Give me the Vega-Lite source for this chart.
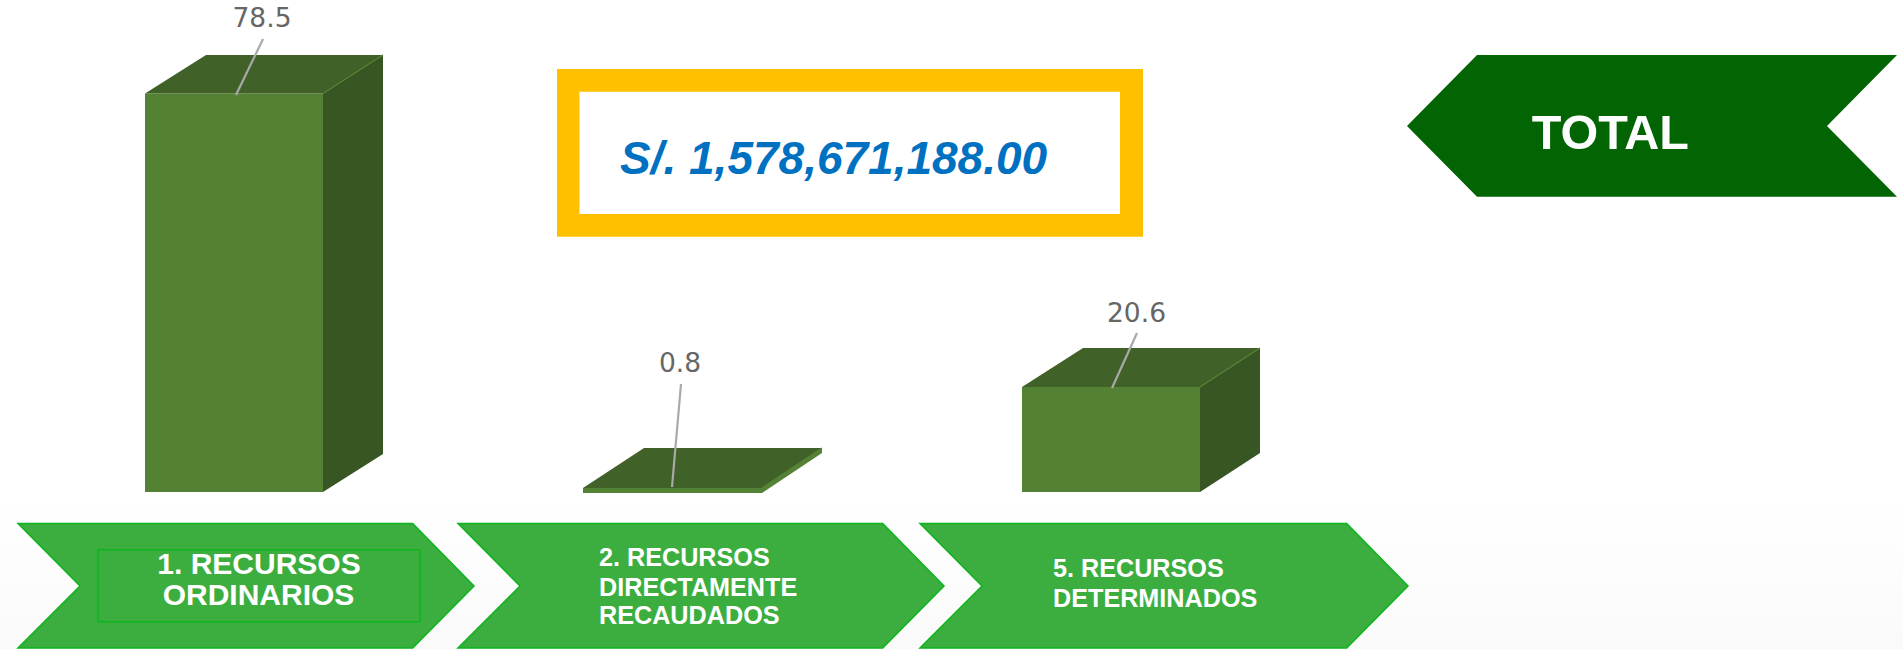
{
"$schema":"https://vega.github.io/schema/vega-lite/v6.json",
"width":1903,"height":649,"padding":0,"autosize":{"type":"none"},
"background":"white",
"view":{"stroke":null},
"config":{"axis":{"domain":false,"grid":false,"ticks":false,"labels":false,"title":null}},
"datasets":{
"faces":[
{"shape":"b1f","part":"front","y":93.5,"xl":145,"xr":323},
{"shape":"b1f","part":"front","y":492,"xl":145,"xr":323},
{"shape":"b1s","part":"side","y":55,"xl":383,"xr":383},
{"shape":"b1s","part":"side","y":93.5,"xl":323,"xr":383},
{"shape":"b1s","part":"side","y":454,"xl":323,"xr":383},
{"shape":"b1s","part":"side","y":492,"xl":323,"xr":323},
{"shape":"b1t","part":"top","y":55,"xl":206,"xr":383},
{"shape":"b1t","part":"top","y":93.5,"xl":145,"xr":323},
{"shape":"b2f","part":"front","y":488,"xl":583,"xr":762},
{"shape":"b2f","part":"front","y":493,"xl":583,"xr":762},
{"shape":"b2s","part":"front","y":448,"xl":822,"xr":822},
{"shape":"b2s","part":"front","y":453,"xl":814.5,"xr":822},
{"shape":"b2s","part":"front","y":488,"xl":762,"xr":769.5},
{"shape":"b2s","part":"front","y":493,"xl":762,"xr":762},
{"shape":"b2t","part":"top","y":448,"xl":644,"xr":822},
{"shape":"b2t","part":"top","y":488,"xl":583,"xr":762},
{"shape":"b3f","part":"front","y":387,"xl":1022,"xr":1200},
{"shape":"b3f","part":"front","y":492,"xl":1022,"xr":1200},
{"shape":"b3s","part":"side","y":348,"xl":1260,"xr":1260},
{"shape":"b3s","part":"side","y":387,"xl":1200,"xr":1260},
{"shape":"b3s","part":"side","y":453,"xl":1200,"xr":1260},
{"shape":"b3s","part":"side","y":492,"xl":1200,"xr":1200},
{"shape":"b3t","part":"top","y":348,"xl":1083,"xr":1260},
{"shape":"b3t","part":"top","y":387,"xl":1022,"xr":1200},
{"shape":"banner","part":"total","y":55,"xl":1477,"xr":1897},
{"shape":"banner","part":"total","y":126,"xl":1407,"xr":1827},
{"shape":"banner","part":"total","y":196.7,"xl":1477,"xr":1897}
],
"chevrons":[
{"shape":"c1","part":"chevron","y":523.5,"xl":18,"xr":412.7},
{"shape":"c1","part":"chevron","y":586,"xl":80,"xr":474},
{"shape":"c1","part":"chevron","y":648,"xl":18,"xr":412.7},
{"shape":"c2","part":"chevron","y":523.5,"xl":458,"xr":882.7},
{"shape":"c2","part":"chevron","y":586,"xl":520,"xr":944},
{"shape":"c2","part":"chevron","y":648,"xl":458,"xr":882.7},
{"shape":"c3","part":"chevron","y":523.5,"xl":920,"xr":1346.7},
{"shape":"c3","part":"chevron","y":586,"xl":982,"xr":1408},
{"shape":"c3","part":"chevron","y":648,"xl":920,"xr":1346.7}
],
"leaders":[
{"x":263,"y":39,"xe":236,"ye":95},
{"x":681,"y":384,"xe":672,"ye":487},
{"x":1137,"y":333,"xe":1112,"ye":388}
],
"edges":[
{"x":323,"y":93.5,"xe":383,"ye":55},
{"x":762,"y":488,"xe":822,"ye":448},
{"x":1200,"y":387,"xe":1260,"ye":348}
],
"values":[
{"label":"78.5","x":262,"y":27.3},
{"label":"0.8","x":680,"y":372},
{"label":"20.6","x":1136.5,"y":322}
],
"first":[
{"label":"1. RECURSOS","x":259,"y":573.5},
{"label":"ORDINARIOS","x":258.5,"y":605}
],
"others":[
{"label":"2. RECURSOS","x":599,"y":565.7},
{"label":"DIRECTAMENTE","x":599,"y":596},
{"label":"RECAUDADOS","x":599,"y":624},
{"label":"5. RECURSOS","x":1053,"y":576.7},
{"label":"DETERMINADOS","x":1053,"y":606.7}
]
},
"encoding":{
"x":{"field":"x","type":"quantitative","scale":{"domain":[0,1903],"nice":false,"zero":false},"axis":null},
"y":{"field":"y","type":"quantitative","scale":{"domain":[649,0],"nice":false,"zero":false},"axis":null}
},
"layer":[
{"data":{"values":[{"x":0,"xe":1903,"y":500,"ye":649}]},
 "mark":{"type":"rect","color":{"gradient":"linear","x1":0,"y1":0,"x2":0,"y2":1,"stops":[{"offset":0,"color":"#ffffff"},{"offset":1,"color":"#fafafa"}]}},
 "encoding":{"x2":{"field":"xe"},"y2":{"field":"ye"}}},
{"data":{"name":"faces"},
 "mark":{"type":"area","orient":"horizontal"},
 "encoding":{
  "x":{"field":"xl","type":"quantitative","stack":null},
  "x2":{"field":"xr"},
  "detail":{"field":"shape"},
  "color":{"field":"part","type":"nominal","legend":null,"scale":{"domain":["front","side","top","total","chevron"],"range":["#548235","#375623","#406128","#026402","#3CAE3F"]}}}},
{"data":{"name":"chevrons"},
 "mark":{"type":"area","orient":"horizontal","stroke":"#0DB41E","strokeWidth":1.5},
 "encoding":{
  "x":{"field":"xl","type":"quantitative","stack":null},
  "x2":{"field":"xr"},
  "detail":{"field":"shape"},
  "color":{"field":"part","type":"nominal","legend":null}}},
{"data":{"values":[{"x":98,"xe":420,"y":549.7,"ye":621.7}]},
 "mark":{"type":"rect","fillOpacity":0,"stroke":"#0DB41E","strokeWidth":1.5},
 "encoding":{"x2":{"field":"xe"},"y2":{"field":"ye"}}},
{"data":{"values":[{"x":557,"xe":1143,"y":69,"ye":236.7}]},
 "mark":{"type":"rect","color":"#FFC000"},
 "encoding":{"x2":{"field":"xe"},"y2":{"field":"ye"}}},
{"data":{"values":[{"x":579.5,"xe":1120,"y":91.7,"ye":214}]},
 "mark":{"type":"rect","color":"#FFFFFF"},
 "encoding":{"x2":{"field":"xe"},"y2":{"field":"ye"}}},
{"data":{"name":"edges"},
 "mark":{"type":"rule","color":"#548235","strokeWidth":1.2},
 "encoding":{"x2":{"field":"xe"},"y2":{"field":"ye"}}},
{"data":{"name":"leaders"},
 "mark":{"type":"rule","color":"#A9A9A9","strokeWidth":2.2},
 "encoding":{"x2":{"field":"xe"},"y2":{"field":"ye"}}},
{"data":{"name":"values"},
 "mark":{"type":"text","font":"DejaVu Sans","fontSize":26.5,"color":"#666666","align":"center","baseline":"alphabetic"},
 "encoding":{"text":{"field":"label"}}},
{"data":{"name":"first"},
 "mark":{"type":"text","font":"Liberation Sans","fontWeight":"bold","fontSize":30,"color":"#FFFFFF","align":"center","baseline":"alphabetic"},
 "encoding":{"text":{"field":"label"}}},
{"data":{"name":"others"},
 "mark":{"type":"text","font":"Liberation Sans","fontWeight":"bold","fontSize":25.2,"color":"#FFFFFF","align":"left","baseline":"alphabetic"},
 "encoding":{"text":{"field":"label"}}},
{"data":{"values":[{"label":"TOTAL","x":1531.7,"y":149}]},
 "mark":{"type":"text","font":"Liberation Sans","fontWeight":"bold","fontSize":48.5,"color":"#FFFFFF","align":"left","baseline":"alphabetic"},
 "encoding":{"text":{"field":"label"}}},
{"data":{"values":[{"label":"S/. 1,578,671,188.00","x":620,"y":174}]},
 "mark":{"type":"text","font":"Liberation Sans","fontWeight":"bold","fontStyle":"italic","fontSize":46,"color":"#0070C0","align":"left","baseline":"alphabetic"},
 "encoding":{"text":{"field":"label"}}}
]
}
